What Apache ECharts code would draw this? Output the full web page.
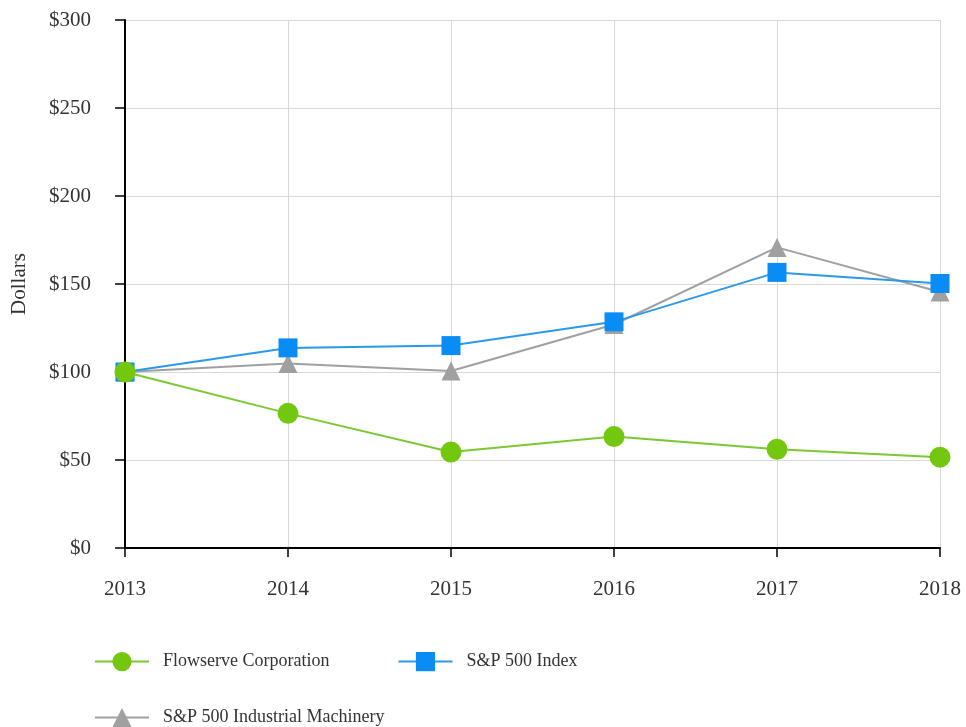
<!DOCTYPE html>
<html><head><meta charset="utf-8">
<script src="https://cdn.jsdelivr.net/npm/echarts@6/dist/echarts.min.js"></script>
<style>html,body{margin:0;padding:0;background:#fff}#c{width:966px;height:727px}</style>
</head><body><div id="c"></div>
<script>
const years = ['2013','2014','2015','2016','2017','2018'];
const flowserve = [100, 76.5, 54.5, 63.3, 56.1, 51.6];
const sp500 = [100, 113.7, 115, 128.5, 156.6, 150.3];
const machinery = [100, 104.8, 100.6, 127, 170.8, 145.5];
const yTicks = [0, 50, 100, 150, 200, 250, 300];

const font = 'Liberation Serif';
const legendText = { fontFamily: font, fontSize: 18, color: '#333', padding: [0, 0, 0, 9] };
const chart = echarts.init(document.getElementById('c'));
chart.setOption({
  animation: false,
  backgroundColor: '#fff',
  textStyle: { fontFamily: font },
  grid: { left: 125, right: 26, top: 20, bottom: 179 },
  legend: [
    { data: ['Flowserve Corporation', 'S&P 500 Index'], left: 89, top: 647, itemWidth: 54, itemHeight: 24, itemGap: 68,
      textStyle: legendText },
    { data: ['S&P 500 Industrial Machinery'], left: 89, top: 703, itemWidth: 54, itemHeight: 24,
      textStyle: legendText }
  ],
  xAxis: {
    type: 'category', data: years, boundaryGap: false,
    axisLine: { lineStyle: { color: '#000', width: 2 } },
    axisTick: { show: true, length: 9, lineStyle: { color: '#000', width: 1.5 } },
    axisLabel: { margin: 31, fontSize: 21, color: '#333', fontFamily: font },
    splitLine: { show: true, lineStyle: { color: '#d9d9d9', width: 1 } }
  },
  yAxis: {
    type: 'value', min: 0, max: 300, interval: 50,
    name: 'Dollars', nameLocation: 'middle', nameGap: 95, nameRotate: 90,
    nameTextStyle: { fontSize: 21, color: '#333', fontFamily: font },
    axisLine: { show: true, lineStyle: { color: '#000', width: 2 } },
    axisTick: { show: true, length: 10, lineStyle: { color: '#000', width: 1.5 } },
    axisLabel: { margin: 34, fontSize: 21, color: '#333', fontFamily: font,
      formatter: v => yTicks.includes(v) ? '$' + v : '' },
    splitLine: { show: true, lineStyle: { color: '#d9d9d9', width: 1 } }
  },
  series: [
    { name: 'S&P 500 Industrial Machinery', type: 'line', data: machinery, symbol: 'triangle', symbolSize: 19,
      itemStyle: { color: '#a0a0a0' }, lineStyle: { color: '#a0a0a0', width: 2 }, z: 2 },
    { name: 'S&P 500 Index', type: 'line', data: sp500, symbol: 'rect', symbolSize: 19,
      itemStyle: { color: '#0a8cf5' }, lineStyle: { color: '#2a9ae8', width: 2 }, z: 3 },
    { name: 'Flowserve Corporation', type: 'line', data: flowserve, symbol: 'circle', symbolSize: 21,
      itemStyle: { color: '#74c70f' }, lineStyle: { color: '#7cc832', width: 2 }, z: 4 }
  ]
});
</script></body></html>
